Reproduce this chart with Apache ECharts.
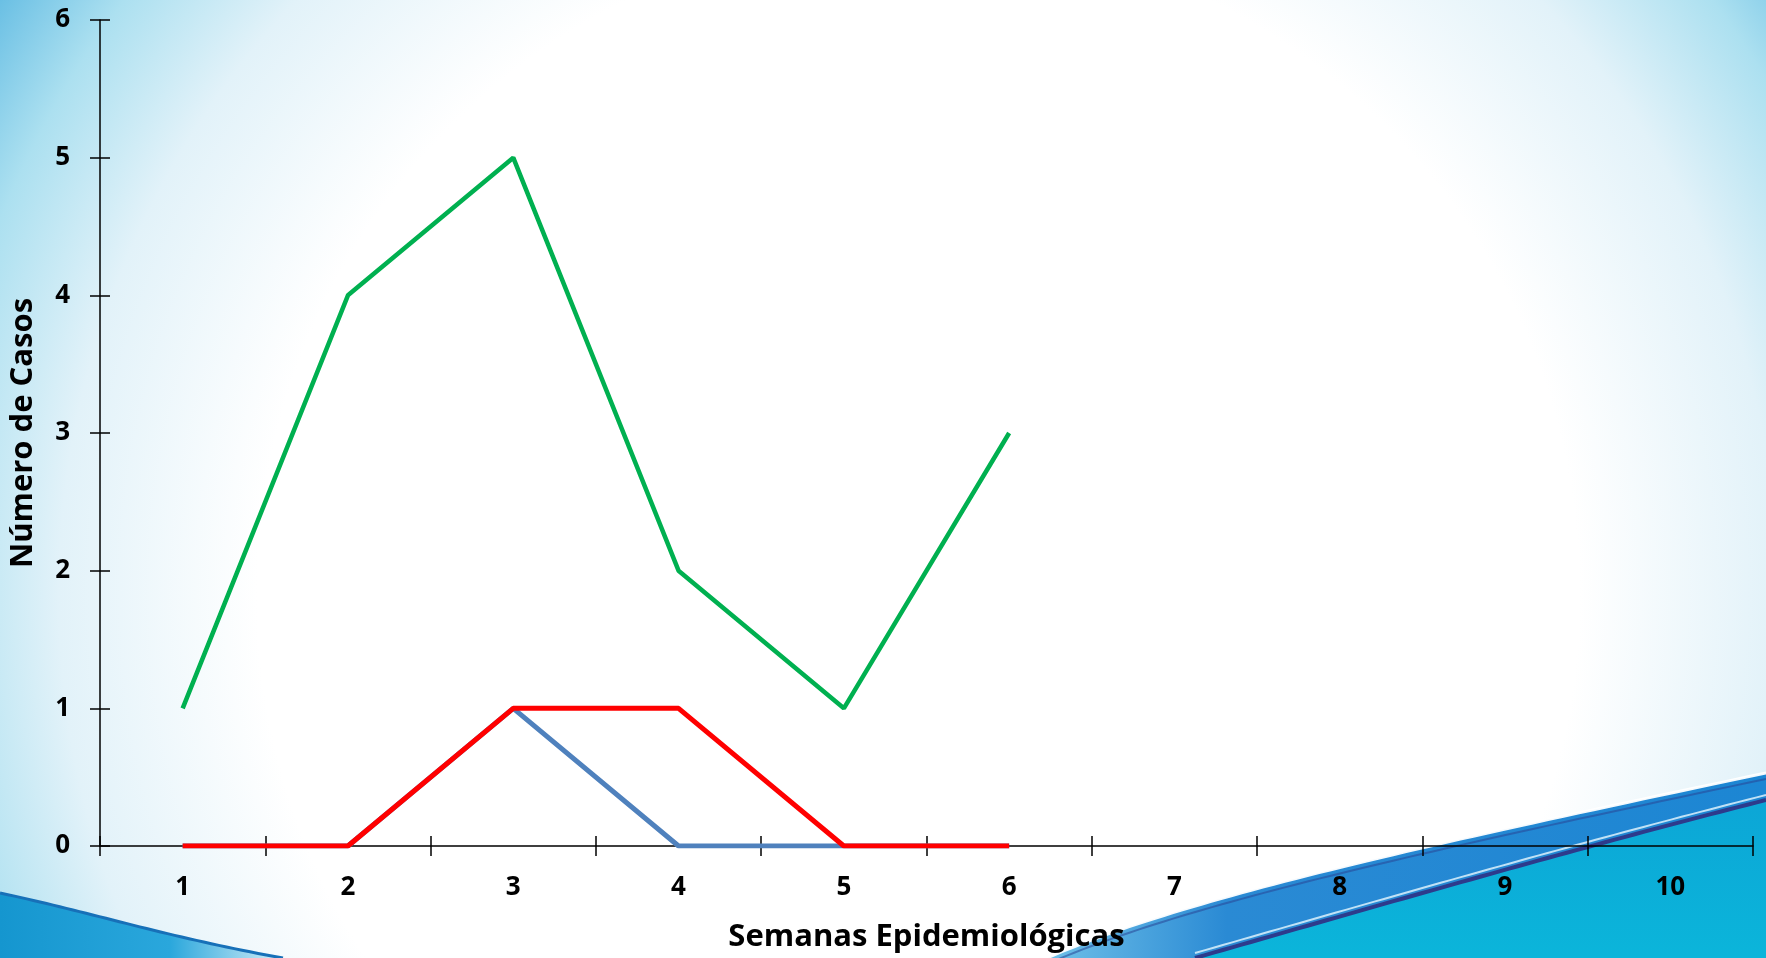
<!DOCTYPE html>
<html>
<head>
<meta charset="utf-8">
<script src="https://cdn.jsdelivr.net/npm/echarts@6/dist/echarts.min.js"></script>
<style>
html,body{margin:0;padding:0;background:#fff;}
#c{width:1766px;height:958px;}
</style>
</head>
<body>
<div id="c"></div>
<script>
// ---- data ----
var weeks = ['1','2','3','4','5','6','7','8','9','10'];
var serieBlue  = [0, 0, 1, 0, 0, 0];
var serieRed   = [0, 0, 1, 1, 0, 0];
var serieGreen = [1, 4, 5, 2, 1, 3];
var yTicks = [0, 1, 2, 3, 4, 5, 6];
var xTitle = 'Semanas Epidemiológicas';
var yTitle = 'Número de Casos';

var W = 1766, H = 958;
var FONT = 'Open Sans';
var chart = echarts.init(document.getElementById('c'), null, {renderer: 'canvas', width: W, height: H});

// decorative background swoosh helper: sample cubic bezier segments
function bez(p0, p1, p2, p3, n) {
  var pts = [];
  for (var i = 0; i <= n; i++) {
    var t = i / n, u = 1 - t;
    pts.push([
      u*u*u*p0[0] + 3*u*u*t*p1[0] + 3*u*t*t*p2[0] + t*t*t*p3[0],
      u*u*u*p0[1] + 3*u*u*t*p1[1] + 3*u*t*t*p2[1] + t*t*t*p3[1]
    ]);
  }
  return pts;
}
var edgeTop = bez([1047,958],[1180,900],[1400,850],[1766,773], 60);
var edgeTopDark = edgeTop.map(function (p) { return [p[0], p[1] + 6]; });
var edgeDark = bez([1195,958],[1380,905],[1580,847],[1766,800], 60);
var edgeLight = edgeDark.map(function (p) { return [p[0], p[1] - 5]; });
var edgeLeft = bez([0,893],[90,912],[170,938],[283,958], 40);

var bgGraphics = [
  {type: 'rect', z: -100, silent: true, shape: {x: 0, y: 0, width: W, height: H},
   style: {fill: new echarts.graphic.RadialGradient(0.52, 0.62, 1.15, [
     {offset: 0, color: '#ffffff'},
     {offset: 0.6, color: '#ffffff'},
     {offset: 0.78, color: '#e2f2f9'},
     {offset: 0.9, color: '#ace0f0'},
     {offset: 1, color: '#65bde3'}
   ])}},
  {type: 'polygon', z: -90, silent: true,
   shape: {points: edgeLeft.concat([[0,958]])},
   style: {fill: new echarts.graphic.LinearGradient(0, 0, 1, 0, [
     {offset: 0, color: '#1596cf'}, {offset: 0.6, color: '#2aa7dc'}, {offset: 1, color: '#d5eef8'}
   ])}},
  {type: 'polyline', z: -89, silent: true, shape: {points: edgeLeft},
   style: {stroke: '#1770b8', lineWidth: 3}},
  {type: 'polygon', z: -90, silent: true,
   shape: {points: edgeTop.concat([[1766,958]])},
   style: {fill: new echarts.graphic.LinearGradient(0, 0, 1, 0, [
     {offset: 0, color: '#6fc0e8'}, {offset: 0.25, color: '#2a8ad4'}, {offset: 1, color: '#1c86d3'}
   ])}},
  {type: 'polygon', z: -89, silent: true,
   shape: {points: edgeDark.concat([[1766,958]])},
   style: {fill: new echarts.graphic.LinearGradient(0, 0, 0, 1, [
     {offset: 0, color: '#0ca6d6'}, {offset: 1, color: '#0bb5da'}
   ])}},
  {type: 'polyline', z: -88, silent: true, shape: {points: edgeTop},
   style: {stroke: 'rgba(255,255,255,0.95)', lineWidth: 3}},
  {type: 'polyline', z: -88, silent: true, shape: {points: edgeTopDark},
   style: {stroke: 'rgba(40,70,150,0.55)', lineWidth: 2}},
  {type: 'polyline', z: -88, silent: true, shape: {points: edgeLight},
   style: {stroke: 'rgba(210,235,250,0.9)', lineWidth: 2}},
  {type: 'polyline', z: -88, silent: true, shape: {points: edgeDark},
   style: {stroke: '#2d3b8c', lineWidth: 4}}
];

var labelStyle = {color: '#000', fontFamily: FONT, fontWeight: 'bold', fontSize: 26};

var option = {
  animation: false,
  graphic: bgGraphics,
  grid: {left: 100, right: 13, top: 20, bottom: 112, containLabel: false},
  xAxis: [{
    type: 'category', data: weeks, boundaryGap: true,
    axisLine: {lineStyle: {color: '#000', width: 1.5}},
    axisTick: {show: true, inside: false, length: 10, lineStyle: {color: '#000', width: 1.5}},
    axisLabel: Object.assign({margin: 29}, labelStyle),
    splitLine: {show: false},
    name: xTitle, nameLocation: 'middle', nameGap: 76,
    nameTextStyle: {color: '#000', fontFamily: FONT, fontWeight: 'bold', fontSize: 31}
  }, {
    type: 'category', data: weeks, boundaryGap: true, position: 'bottom',
    axisLine: {show: false},
    axisTick: {show: true, inside: true, length: 10, lineStyle: {color: '#000', width: 1.5}},
    axisLabel: {show: false}, splitLine: {show: false}
  }],
  yAxis: [{
    type: 'value', min: 0, max: 6, interval: 1,
    axisLine: {show: true, lineStyle: {color: '#000', width: 1.5}},
    axisTick: {show: true, inside: false, length: 10, lineStyle: {color: '#000', width: 1.5}},
    axisLabel: Object.assign({margin: 30}, labelStyle),
    splitLine: {show: false},
    name: yTitle, nameLocation: 'middle', nameGap: 61, nameRotate: 90,
    nameTextStyle: {color: '#000', fontFamily: FONT, fontWeight: 'bold', fontSize: 31}
  }, {
    type: 'value', min: 0, max: 6, interval: 1, position: 'left',
    axisLine: {show: false},
    axisTick: {show: true, inside: true, length: 10, lineStyle: {color: '#000', width: 1.5}},
    axisLabel: {show: false}, splitLine: {show: false}
  }],
  series: [
    {name: 'Azul', type: 'line', data: serieBlue, symbol: 'none', lineStyle: {color: '#4f81bd', width: 5}, z: 3},
    {name: 'Rojo', type: 'line', data: serieRed, symbol: 'none', lineStyle: {color: '#ff0000', width: 5}, z: 4},
    {name: 'Verde', type: 'line', data: serieGreen, symbol: 'none', lineStyle: {color: '#00b050', width: 4.5}, z: 5}
  ]
};
chart.setOption(option);
</script>
</body>
</html>
